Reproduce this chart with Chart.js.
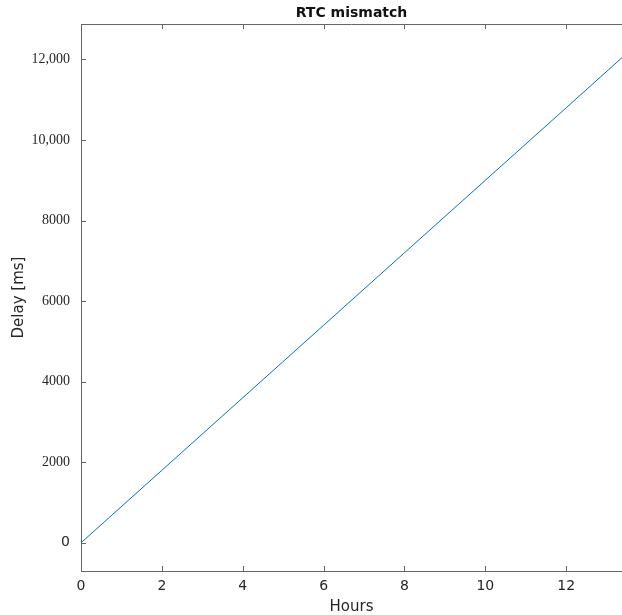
<!DOCTYPE html>
<html>
<head>
<meta charset="utf-8">
<title>RTC mismatch</title>
<script src="https://cdn.jsdelivr.net/npm/chart.js@4"></script>
<style>
  html, body { margin: 0; padding: 0; background: #fff; }
  #wrap { width: 622px; height: 615px; }
</style>
</head>
<body>
<div id="wrap"><canvas id="chart" width="622" height="615"></canvas></div>
<script>
// Values (drift grows ~900 ms per hour)
const hours = [0, 2, 4, 6, 8, 10, 12, 13.38];
const delayMs = [0, 1800, 3600, 5400, 7200, 9000, 10800, 12045];

const xTicks = [0, 2, 4, 6, 8, 10, 12];
const yTicks = [0, 2000, 4000, 6000, 8000, 10000, 12000];
const yTickLabels = ["0", "2000", "4000", "6000", "8000", "10,000", "12,000"];

const AXIS_COLOR = "#666666";
const TEXT_COLOR = "#262626";
const LINE_COLOR = "#0072bd";
const TICK_LEN = 5;

// Chart.js only draws outside ticks, so the inward box ticks + top edge are done here
const boxTicks = {
  id: "boxTicks",
  afterDraw(chart) {
    const { ctx, chartArea: a, scales: { x, y } } = chart;
    ctx.save();
    ctx.strokeStyle = AXIS_COLOR;
    ctx.lineWidth = 1;
    ctx.beginPath();
    ctx.moveTo(a.left, a.top + 0.5);
    ctx.lineTo(a.right, a.top + 0.5);
    xTicks.forEach((v) => {
      const px = Math.round(x.getPixelForValue(v)) + 0.5;
      ctx.moveTo(px, a.bottom);
      ctx.lineTo(px, a.bottom - TICK_LEN);
      ctx.moveTo(px, a.top);
      ctx.lineTo(px, a.top + TICK_LEN);
    });
    yTicks.forEach((v) => {
      const py = Math.round(y.getPixelForValue(v)) + 0.5;
      ctx.moveTo(a.left, py);
      ctx.lineTo(a.left + TICK_LEN, py);
    });
    ctx.stroke();
    ctx.restore();
  },
};

new Chart(document.getElementById("chart"), {
  type: "line",
  data: {
    datasets: [
      {
        data: hours.map((h, i) => ({ x: h, y: delayMs[i] })),
        borderColor: LINE_COLOR,
        borderWidth: 1,
        pointRadius: 0,
        tension: 0,
        fill: false,
      },
    ],
  },
  options: {
    responsive: false,
    animation: false,
    devicePixelRatio: 1,
    layout: { padding: 0 },
    plugins: {
      legend: { display: false },
      tooltip: { enabled: false },
      title: {
        display: true,
        fullSize: false, // center over the plot, not the canvas
        text: "RTC mismatch",
        color: "#111111",
        font: { family: "DejaVu Sans", size: 14, weight: "bold" },
        padding: { top: 5, bottom: 2.2 },
      },
    },
    scales: {
      x: {
        type: "linear",
        min: 0,
        max: 13.38,
        afterFit: (s) => { s.height = 44; },
        afterBuildTicks: (s) => { s.ticks = xTicks.map((v) => ({ value: v })); },
        grid: { display: false, drawTicks: false },
        border: { display: true, color: AXIS_COLOR, width: 1 },
        ticks: {
          color: TEXT_COLOR,
          padding: 7,
          maxRotation: 0,
          font: { family: "DejaVu Sans", size: 14 },
          callback: (v) => String(v),
        },
        title: {
          display: true,
          text: "Hours",
          color: TEXT_COLOR,
          font: { family: "DejaVu Sans", size: 15 },
          padding: { top: 0, bottom: -1 },
        },
      },
      y: {
        type: "linear",
        min: -700,
        max: 12880,
        afterFit: (s) => { s.width = 81; },
        afterBuildTicks: (s) => { s.ticks = yTicks.map((v) => ({ value: v })); },
        grid: { display: false, drawTicks: false },
        border: { display: true, color: AXIS_COLOR, width: 1 },
        ticks: {
          color: TEXT_COLOR,
          padding: 11,
          font: (c) =>
            c.tick && c.tick.value === 0
              ? { family: "DejaVu Sans", size: 14 }
              : { family: "Liberation Serif", size: 14 },
          callback: (v) => yTickLabels[yTicks.indexOf(v)],
        },
        title: {
          display: true,
          text: "Delay [ms]",
          color: TEXT_COLOR,
          font: { family: "DejaVu Sans", size: 15 },
          padding: { top: 10, bottom: 0 },
        },
      },
    },
  },
  plugins: [boxTicks],
});
</script>
</body>
</html>
